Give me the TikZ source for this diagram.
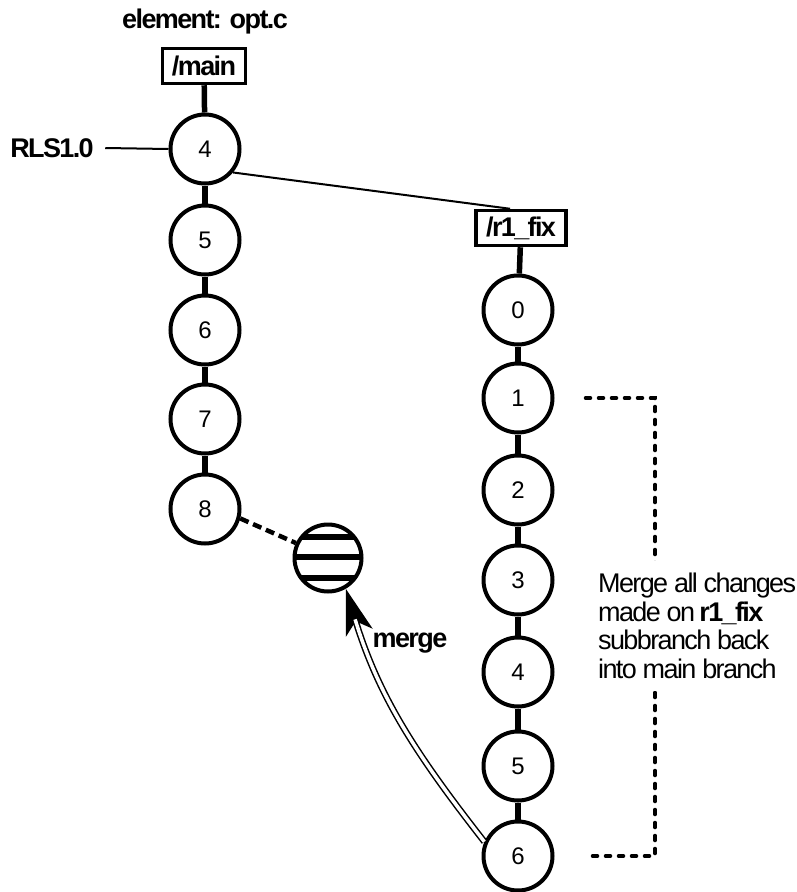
\documentclass[tikz,border=0pt]{standalone}
\usepackage{fontspec}
\setmainfont{Liberation Sans}[LetterSpace=-6]
\usetikzlibrary{arrows.meta}
\begin{document}
\begin{tikzpicture}[x=1pt,y=-1pt,
  every node/.style={font=\fontsize{27}{28.5}\selectfont},
  ver/.style={circle,draw,line width=4pt,minimum size=69pt,inner sep=0pt,font=\fontsize{24}{28}\selectfont},
  brbox/.style={draw,line width=3.5pt,minimum width=#1,minimum height=35pt,inner sep=2pt,font=\fontsize{27}{28}\selectfont\bfseries},
  link/.style={line width=5.5pt},
  thin/.style={line width=2pt},
  dashbr/.style={line width=3.5pt,line cap=round,dash pattern=on 5pt off 8pt},
  lbl/.style={font=\fontsize{27}{28}\selectfont\bfseries}
]
\useasboundingbox (0,0) rectangle (797,892);

% titles
\node[lbl] (title) at (205,22) {element: opt.c};
\node[brbox=83pt] (mainb) at (204,66) {/main};
\node[brbox=90pt] (rfix) at (521,228) {/r1\_fix};

% main branch
\node[ver] (m4) at (205,149) {4};
\node[ver] (m5) at (205,240) {5};
\node[ver] (m6) at (205,330) {6};
\node[ver] (m7) at (205,419) {7};
\node[ver] (m8) at (205,509) {8};

% r1_fix branch
\node[ver] (r0) at (518,310) {0};
\node[ver] (r1) at (518,398) {1};
\node[ver] (r2) at (518,490) {2};
\node[ver] (r3) at (518,580) {3};
\node[ver] (r4) at (518,672) {4};
\node[ver] (r5) at (518,766) {5};
\node[ver] (r6) at (518,856) {6};

\draw[link] (mainb) -- (m4);
\draw[link] (m4) -- (m5);
\draw[link] (m5) -- (m6);
\draw[link] (m6) -- (m7);
\draw[link] (m7) -- (m8);

\draw[link] (rfix) -- (r0);
\draw[link] (r0) -- (r1);
\draw[link] (r1) -- (r2);
\draw[link] (r2) -- (r3);
\draw[link] (r3) -- (r4);
\draw[link] (r4) -- (r5);
\draw[link] (r5) -- (r6);

% label RLS1.0
\node[lbl] (rls) at (52,148) {RLS1.0};
\draw[thin] ([xshift=8pt]rls.east) -- (m4.west);

% branch line
\draw[thin] (m4.-40) -- ([xshift=-11pt]rfix.north);

% striped merged version
\node[ver,minimum size=67pt] (st) at (328,558) {};
\begin{scope}
  \clip (st.center) circle[radius=33.5pt];
  \draw[line width=6pt] ([yshift=-20pt]st.west) -- ([yshift=-20pt]st.east);
  \draw[line width=6pt] ([yshift=1pt]st.west) -- ([yshift=1pt]st.east);
  \draw[line width=6pt] ([yshift=21pt]st.west) -- ([yshift=21pt]st.east);
\end{scope}

\draw[line width=4.5pt,dash pattern=on 9pt off 5pt] (m8.-15) -- (st.155);

% merge arrow
\draw[line width=2pt,-{Stealth[length=46pt,width=28pt,inset=12pt]}] (r6.157) to[out=128,in=-73] (st.-60);
\draw[line width=1.5pt,double,double distance=3.5pt,shorten >=32pt] (r6.157) to[out=128,in=-73] (st.-60);
\node[lbl] (mergel) at (410,643) {merge};

% bracket
\coordinate (bt1) at ([xshift=31pt]r1.east);
\coordinate (bt2) at (655,398);
\coordinate (bb2) at (655,856);
\coordinate (bb1) at ([xshift=31pt]r6.east);
\draw[dashbr] (bt1) -- (bt2) -- (bb2) -- (bb1);
\node[anchor=west,align=left,fill=white,inner xsep=0pt,inner ysep=12pt] (note) at (598,626)
  {Merge all changes\\made on \textbf{r1\_fix}\\subbranch back\\into main branch};
\end{tikzpicture}
\end{document}
